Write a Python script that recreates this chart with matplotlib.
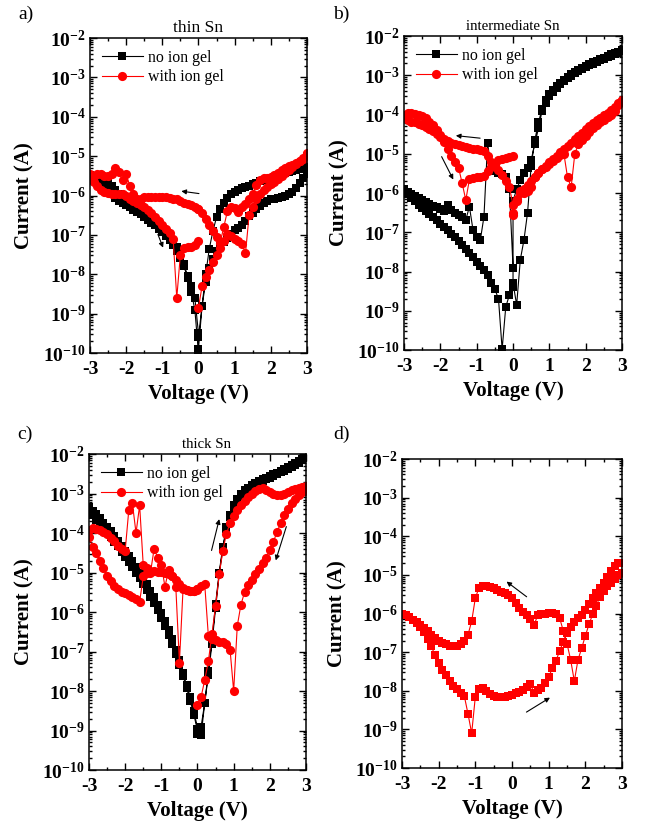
import matplotlib
matplotlib.use('Agg')
import matplotlib.pyplot as plt
import numpy as np
from matplotlib.ticker import LogLocator, MultipleLocator, NullFormatter

plt.rcParams['font.family'] = 'Liberation Serif'
plt.rcParams['mathtext.fontset'] = 'custom'
plt.rcParams['mathtext.rm'] = 'Liberation Serif'
plt.rcParams['mathtext.bf'] = 'Liberation Serif:bold'
plt.rcParams['axes.unicode_minus'] = False

# Grade de tensão da varredura (V)
v_pos = [0.0, 0.1, 0.2, 0.3, 0.4, 0.5, 0.6, 0.7, 0.8, 0.9, 1.0, 1.1, 1.2, 1.3, 1.4, 1.5,
         1.6, 1.7, 1.8, 1.9, 2.0, 2.1, 2.2, 2.3, 2.4, 2.5, 2.6, 2.7, 2.8, 2.9, 3.0]
v_neg = [0.0, -0.1, -0.2, -0.3, -0.4, -0.5, -0.6, -0.7, -0.8, -0.9, -1.0, -1.1, -1.2, -1.3, -1.4, -1.5,
         -1.6, -1.7, -1.8, -1.9, -2.0, -2.1, -2.2, -2.3, -2.4, -2.5, -2.6, -2.7, -2.8, -2.9, -3.0]

# log10 da corrente, por ramo: 0->3, 3->0, 0->-3, -3->0
# a) thin Sn
a_blk_1 = [-9.6, -8.8, -8.0, -7.35, -6.9, -6.55, -6.33, -6.18, -6.06, -5.97, -5.92, -5.86, -5.82, -5.78, -5.75, -5.71,
           -5.67, -5.64, -5.61, -5.58, -5.55, -5.52, -5.5, -5.47, -5.44, -5.41, -5.38, -5.35, -5.32, -5.3, -5.27]
a_blk_2 = [-5.45, -5.55, -5.68, -5.8, -5.9, -5.97, -6.02, -6.04, -6.06, -6.08, -6.1, -6.13, -6.18, -6.26, -6.35, -6.44,
           -6.53, -6.65, -6.75, -6.82, -6.88, -6.97, -7.07, -7.17, -7.27, -7.4, -7.6, -7.85, -8.2, -8.8, -9.9]
a_blk_3 = [-9.5, -8.6, -8.3, -8.05, -7.75, -7.5, -7.3, -7.15, -7.04, -6.92, -6.82, -6.73, -6.66, -6.58, -6.5, -6.42,
           -6.35, -6.3, -6.25, -6.18, -6.12, -6.05, -5.95, -5.85, -5.75, -5.66, -5.6, -5.55, -5.52, -5.5, -5.48]
a_blk_4 = [-5.55, -5.6, -5.65, -5.72, -5.8, -5.88, -5.97, -6.06, -6.14, -6.2, -6.25, -6.3, -6.36, -6.42, -6.48, -6.55,
           -6.62, -6.7, -6.76, -6.84, -6.93, -7.03, -7.14, -7.26, -7.4, -7.58, -7.8, -8.1, -8.45, -8.9, -9.98]
a_red_1 = [-8.85, -8.3, -8.08, -7.88, -7.68, -7.5, -7.33, -7.15, -6.98, -7.04, -7.1, -7.15, -7.22, -7.47, -6.5, -6.3,
           -6.1, -5.95, -5.85, -5.78, -5.72, -5.65, -5.58, -5.5, -5.42, -5.35, -5.27, -5.2, -5.12, -5.04, -4.92]
a_red_2 = [-4.95, -5.07, -5.12, -5.18, -5.22, -5.26, -5.3, -5.35, -5.42, -5.47, -5.52, -5.55, -5.55, -5.6, -5.73, -5.95,
           -6.1, -6.22, -6.3, -6.42, -6.32, -6.28, -6.4, -6.8, -7.2, -7.05, -6.9, -6.75, -6.6, -6.45, -6.35]
a_red_3 = [-6.35, -6.28, -6.25, -6.22, -6.2, -6.15, -6.1, -6.08, -6.06, -6.05, -6.05, -6.05, -6.05, -6.05, -6.05, -6.05,
           -6.08, -6.1, -5.95, -5.75, -5.45, -5.6, -5.4, -5.3, -5.45, -5.5, -5.5, -5.45, -5.45, -5.5, -5.45]
a_red_4 = [-5.55, -5.65, -5.75, -5.85, -5.9, -5.93, -5.95, -5.95, -5.95, -5.97, -6.02, -6.08, -6.13, -6.18, -6.25, -6.3,
           -6.37, -6.45, -6.55, -6.65, -6.75, -6.85, -6.95, -7.1, -8.6, -7.5, -7.33, -7.32, -7.3, -7.25, -7.15]

# b) intermediate Sn
b_blk_1 = [-8.3, -8.85, -7.7, -7.2, -6.5, -5.3, -4.65, -4.2, -3.85, -3.62, -3.48, -3.37, -3.28, -3.2, -3.12, -3.05,
           -2.98, -2.92, -2.87, -2.82, -2.76, -2.71, -2.67, -2.63, -2.59, -2.55, -2.51, -2.47, -2.43, -2.4, -2.36]
b_blk_2 = [-2.38, -2.42, -2.46, -2.5, -2.54, -2.58, -2.62, -2.66, -2.7, -2.74, -2.79, -2.84, -2.89, -2.95, -3.01, -3.08,
           -3.15, -3.23, -3.32, -3.42, -3.54, -3.7, -3.9, -4.35, -4.75, -5.15, -5.35, -5.5, -5.68, -5.9, -6.2]
b_blk_3 = [-8.4, -8.6, -8.9, -9.98, -8.7, -8.45, -8.28, -8.1, -7.95, -7.85, -7.75, -7.63, -7.52, -7.42, -7.32, -7.22,
           -7.13, -7.05, -6.95, -6.87, -6.79, -6.7, -6.62, -6.54, -6.46, -6.38, -6.3, -6.21, -6.12, -6.03, -5.95]
b_blk_4 = [-5.9, -5.97, -6.03, -6.08, -6.13, -6.17, -6.22, -6.27, -6.32, -6.36, -6.4, -6.45, -6.3, -6.42, -6.5, -6.55,
           -6.62, -6.68, -6.35, -6.95, -7.12, -7.2, -6.6, -4.72, -5.42, -5.45, -5.48, -5.52, -5.58, -5.9, -7.9]
b_red_1 = [-6.56, -6.15, -6.0, -5.9, -5.8, -5.7, -5.6, -5.5, -5.4, -5.33, -5.26, -5.18, -5.1, -5.02, -5.0, -5.6,
           -5.85, -5.0, -4.75, -4.65, -4.55, -4.45, -4.35, -4.27, -4.2, -4.13, -4.07, -4.0, -3.9, -3.77, -3.62]
b_red_2 = [-3.62, -3.7, -3.8, -3.88, -3.95, -4.02, -4.08, -4.15, -4.22, -4.3, -4.38, -4.46, -4.55, -4.63, -4.72, -4.8,
           -4.88, -4.96, -5.05, -5.13, -5.22, -5.3, -5.4, -5.5, -5.6, -5.85, -5.95, -6.0, -5.95, -6.2, -6.5]
b_red_3 = [-6.3, -5.85, -5.7, -5.55, -5.42, -5.3, -5.2, -5.05, -4.93, -4.9, -4.88, -4.87, -4.86, -4.84, -4.81, -4.78,
           -4.75, -4.72, -4.67, -4.62, -4.56, -4.5, -4.43, -4.37, -4.32, -4.27, -4.23, -4.2, -4.18, -4.15, -4.1]
b_red_4 = [-4.0, -3.97, -3.96, -3.98, -4.01, -4.05, -4.1, -4.18, -4.27, -4.4, -4.53, -4.7, -4.87, -5.05, -5.2, -5.35,
           -5.75, -6.18, -5.65, -5.62, -5.6, -5.58, -5.57, -5.45, -5.33, -5.25, -5.17, -5.13, -5.1, -5.08, -5.06]

# c) thick Sn
c_blk_1 = [-9.0, -9.12, -8.3, -7.5, -6.7, -5.8, -5.0, -4.35, -3.85, -3.55, -3.3, -3.15, -3.02, -2.92, -2.85, -2.79,
           -2.74, -2.69, -2.64, -2.6, -2.56, -2.51, -2.47, -2.42, -2.38, -2.33, -2.28, -2.23, -2.18, -2.13, -2.07]
c_blk_2 = [-2.1, -2.16, -2.22, -2.27, -2.32, -2.37, -2.42, -2.46, -2.51, -2.55, -2.6, -2.64, -2.69, -2.74, -2.79, -2.85,
           -2.91, -2.98, -3.07, -3.2, -3.35, -3.6, -3.9, -4.4, -5.05, -5.9, -6.8, -7.6, -8.3, -8.9, -9.1]
c_blk_3 = [-8.95, -8.5, -8.15, -7.85, -7.55, -7.22, -6.95, -6.68, -6.45, -6.22, -6.02, -5.82, -5.63, -5.46, -5.3, -5.15,
           -5.0, -4.86, -4.72, -4.58, -4.45, -4.32, -4.2, -4.08, -3.96, -3.85, -3.74, -3.63, -3.53, -3.43, -3.35]
c_blk_4 = [-3.45, -3.55, -3.66, -3.77, -3.88, -3.99, -4.1, -4.22, -4.34, -4.47, -4.6, -4.73, -4.87, -5.01, -5.15, -5.3,
           -5.45, -5.61, -5.78, -5.96, -6.15, -6.36, -6.58, -6.81, -7.06, -7.33, -7.62, -7.93, -8.25, -8.6, -9.0]
c_red_1 = [-8.35, -8.15, -7.72, -7.25, -6.55, -5.85, -5.05, -4.45, -4.02, -3.75, -3.57, -3.42, -3.3, -3.18, -3.08, -3.0,
           -2.93, -2.88, -2.87, -2.9, -2.95, -3.0, -3.04, -3.03, -3.0, -2.96, -2.92, -2.88, -2.85, -2.83, -2.82]
c_red_2 = [-2.85, -2.95, -3.05, -3.15, -3.25, -3.38, -3.55, -3.75, -3.97, -4.22, -4.43, -4.62, -4.77, -4.92, -5.05, -5.18,
           -5.32, -5.5, -5.82, -6.35, -8.0, -6.95, -6.82, -6.77, -6.75, -6.72, -6.68, -6.6, -5.3, -5.35, -5.42]
c_red_3 = [-5.42, -5.47, -5.48, -5.45, -5.42, -7.28, -5.36, -5.1, -4.94, -5.36, -4.8, -4.62, -4.4, -5.0, -4.88, -4.82,
           -3.3, -4.0, -3.25, -3.42, -4.45, -4.4, -4.33, -4.2, -4.12, -4.03, -3.97, -3.92, -3.89, -3.88, -3.92]
c_red_4 = [-4.1, -4.35, -4.5, -4.7, -4.88, -5.1, -5.22, -5.34, -5.42, -5.49, -5.53, -5.57, -5.61, -5.66, -5.74, -5.1,
           -5.0, -4.96, -4.97, -4.98, -4.98, -5.0, -5.04, -5.1, -5.18, -5.3, -5.38, -5.45, -5.47, -5.46, -5.44]

# d) varredura 0 -> 3 -> -3 -> 0
d_red_1 = [-8.1, -8.07, -8.04, -7.98, -7.9, -7.82, -8.05, -7.98, -7.92, -7.8, -7.64, -7.42, -7.22, -6.97, -6.73, -6.51,
           -6.34, -6.22, -6.12, -6.03, -5.9, -5.75, -5.6, -5.48, -5.35, -5.2, -5.05, -4.9, -4.78, -4.7, -4.7]
d_red_2 = [-4.95, -5.0, -5.1, -5.2, -5.3, -5.42, -5.56, -5.8, -6.02, -6.28, -6.58, -6.9, -7.2, -7.75, -7.2, -6.78,
           -6.45, -6.12, -6.0, -5.98, -5.98, -6.0, -6.02, -6.05, -6.3, -6.13, -6.05, -5.95, -5.85, -5.72, -5.6,
           -5.53, -5.48, -5.44, -5.4, -5.35, -5.31, -5.29, -5.29, -5.33, -5.6, -6.2, -6.55, -6.72, -6.8, -6.84,
           -6.85, -6.84, -6.8, -6.76, -6.7, -6.63, -6.55, -6.46, -6.38, -6.3, -6.23, -6.16, -6.1, -6.05, -6.0]
d_red_3 = [-6.0, -6.05, -6.1, -6.17, -6.25, -6.35, -6.48, -6.65, -6.85, -7.08, -7.28, -7.45, -7.6, -7.75, -7.87, -7.96,
           -8.05, -8.14, -8.6, -9.1, -8.15, -7.95, -7.93, -8.0, -8.08, -8.13, -8.16, -8.17, -8.16, -8.13, -8.1]

titles = ['thin Sn', 'intermediate Sn', 'thick Sn', '']
title_sizes = [12.5, 10.6, 10.6, 10.6]
letters = ['a)', 'b)', 'c)', 'd)']
legend_labels = ['no ion gel', 'with ion gel']


def full_sweep(b1, b2, b3, b4):
    v = v_pos + v_pos[::-1] + v_neg + v_neg[::-1]
    i = 10.0 ** np.array(b1 + b2 + b3 + b4)
    return v, i


fig = plt.figure(figsize=(6.45, 8.32), dpi=100)
# [esquerda, base, largura, altura] em fração da figura
rects = [[0.1395, 0.5757, 0.3364, 0.3786],
         [0.6264, 0.5793, 0.3380, 0.3774],
         [0.1380, 0.0745, 0.3364, 0.3798],
         [0.6233, 0.0769, 0.3410, 0.3714]]
axes = [fig.add_axes(r) for r in rects]

series = [
    (full_sweep(a_blk_1, a_blk_2, a_blk_3, a_blk_4), full_sweep(a_red_1, a_red_2, a_red_3, a_red_4)),
    (full_sweep(b_blk_1, b_blk_2, b_blk_3, b_blk_4), full_sweep(b_red_1, b_red_2, b_red_3, b_red_4)),
    (full_sweep(c_blk_1, c_blk_2, c_blk_3, c_blk_4), full_sweep(c_red_1, c_red_2, c_red_3, c_red_4)),
]

for ax, (blk, red) in zip(axes[:3], series):
    ax.plot(blk[0], blk[1], '-s', color='black', lw=0.8, ms=5.6, mew=0, label=legend_labels[0])
    ax.plot(red[0], red[1], '-o', color='#ff0000', lw=0.8, ms=6.6, mew=0, label=legend_labels[1])
    ax.legend(loc='upper left', frameon=False, fontsize=11.4, handlelength=2.6, handletextpad=0.3,
              labelspacing=0.2, borderaxespad=0.35, numpoints=1)

# painel d: só com gel iônico
v_d = v_pos + (v_pos[::-1] + v_neg[1:]) + v_neg[::-1]
i_d = 10.0 ** np.array(d_red_1 + d_red_2 + d_red_3)
axes[3].plot(v_d, i_d, '-s', color='#ff0000', lw=0.8, ms=6.0, mew=0)

# setas indicando o sentido da varredura (tensão, log10 corrente)
arrows = [
    [((0.09, -5.96), (-0.55, -5.88)), ((-1.15, -6.92), (-0.95, -7.39))],
    [((-0.83, -4.61), (-1.65, -4.53)), ((-2.0, -5.01), (-1.61, -5.72))],
    [((0.37, -4.51), (0.62, -3.58)), ((2.48, -3.77), (2.14, -4.76))],
    [((0.46, -5.61), (-0.21, -5.13)), ((0.33, -8.59), (1.1, -8.14))],
]

ytick_vals = [10.0 ** k for k in range(-10, -1)]
ytick_labels = [r'$\mathbf{10^{%d}}$' % k for k in range(-10, -1)]
xtick_vals = [-3, -2, -1, 0, 1, 2, 3]

for n, ax in enumerate(axes):
    ax.set_yscale('log')
    ax.set_xlim(-3, 3)
    ax.set_ylim(1e-10, 1e-2)
    ax.set_yticks(ytick_vals)
    ax.set_yticklabels(ytick_labels, fontsize=14)
    ax.yaxis.set_minor_locator(LogLocator(base=10, subs=np.arange(2, 10), numticks=20))
    ax.yaxis.set_minor_formatter(NullFormatter())
    ax.set_xticks(xtick_vals)
    ax.set_xticklabels([str(v) for v in xtick_vals], fontsize=14, fontweight='bold')
    ax.xaxis.set_minor_locator(MultipleLocator(0.5))
    ax.tick_params(which='both', direction='in', top=True, right=True, width=1)
    ax.tick_params(which='major', length=5)
    ax.tick_params(which='minor', length=2.5)
    ax.tick_params(axis='y', pad=3)
    ax.tick_params(axis='x', pad=6)
    for s in ax.spines.values():
        s.set_linewidth(1.1)
    ax.set_xlabel('Voltage (V)', fontsize=15, fontweight='bold', labelpad=4)
    ax.set_ylabel('Current (A)', fontsize=15, fontweight='bold', labelpad=6)
    if titles[n]:
        ax.set_title(titles[n], fontsize=title_sizes[n], pad=4)
    for tail, head in arrows[n]:
        ax.annotate('', xy=(head[0], 10.0 ** head[1]), xytext=(tail[0], 10.0 ** tail[1]),
                    arrowprops=dict(arrowstyle='-|>', color='black', lw=0.8, mutation_scale=7))

axes[2].title.set_position((0.54, 1.0))

letter_pos = [(0.028, 0.983), (0.516, 0.983), (0.026, 0.478), (0.516, 0.478)]
for (x, y), t in zip(letter_pos, letters):
    fig.text(x, y, t, fontsize=14, va='center', ha='left')

fig.savefig('out.png', dpi=100)
